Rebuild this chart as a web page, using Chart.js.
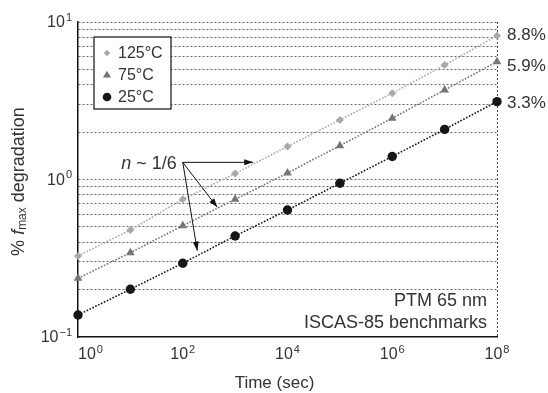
<!DOCTYPE html>
<html><head><meta charset="utf-8">
<script src="https://cdn.jsdelivr.net/npm/chart.js@4"></script>
<style>html,body{margin:0;padding:0;background:#fff}#w{width:548px;height:393px}</style>
</head><body><div id="w"><canvas id="c" width="548" height="393"></canvas></div>
<script>
const times = [1, 10, 100, 1e3, 1e4, 1e5, 1e6, 1e7, 1e8];
const seriesLabels = ['125°C', '75°C', '25°C'];
const deg125 = [0.327, 0.478, 0.748, 1.09, 1.62, 2.39, 3.53, 5.33, 8.19];
const deg75 = [0.236, 0.343, 0.509, 0.748, 1.10, 1.64, 2.45, 3.70, 5.60];
const deg25 = [0.138, 0.201, 0.294, 0.438, 0.640, 0.946, 1.40, 2.08, 3.12];
const endLabels = ['8.8%', '5.9%', '3.3%'];
const endLabelY = [8.26, 5.2, 3.06];
const xTickExps = [0, 2, 4, 6, 8];
const yTickExps = [-1, 0, 1];
const noteText = ['PTM 65 nm', 'ISCAS-85 benchmarks'];
const arrowFrom = {x: 100, y: 1.285};
const arrowTips = [{x: Math.pow(10, 3.345), y: 1.285}, {x: Math.pow(10, 2.66), y: 0.666}, {x: Math.pow(10, 2.277), y: 0.353}];

const colors = ['#a9a9a9', '#757575', '#161616'];
const styles = ['rectRot', 'triangle', 'circle'];
const radii = [4, 5, 4.7];
const legendRadii = [3.3, 4.3, 4.3];
const allSeries = [deg125, deg75, deg25];
const FONT = '"Liberation Sans", Arial, sans-serif';
const TXT = '#333';

const datasets = allSeries.map((s, i) => ({
  label: seriesLabels[i],
  data: s.map((v, j) => ({x: times[j], y: v})),
  borderColor: colors[i],
  backgroundColor: colors[i],
  pointBackgroundColor: colors[i],
  pointBorderColor: colors[i],
  pointStyle: styles[i],
  pointRadius: radii[i],
  pointBorderWidth: 0,
  borderWidth: 1.6,
  borderDash: [1.6, 1.6],
  showLine: true,
  fill: false,
  clip: false
}));

function drawPow(ctx, base, exp, x, y, align) {
  ctx.font = '16px ' + FONT;
  const wb = ctx.measureText(base).width;
  ctx.font = '11px ' + FONT;
  const es = exp < 0 ? '\u2212' + (-exp) : String(exp);
  const we = ctx.measureText(es).width + 1;
  const tot = wb + we;
  let x0 = x;
  if (align === 'center') x0 = x - tot / 2;
  else if (align === 'right') x0 = x - tot;
  ctx.textAlign = 'left';
  ctx.textBaseline = 'middle';
  ctx.font = '16px ' + FONT;
  ctx.fillText(base, x0, y);
  ctx.font = '11px ' + FONT;
  ctx.fillText(es, x0 + wb + 1, y - 5.5);
}

function drawMarker(ctx, style, x, y, r, color) {
  ctx.fillStyle = color;
  ctx.beginPath();
  if (style === 'circle') {
    ctx.arc(x, y, r, 0, Math.PI * 2);
  } else if (style === 'triangle') {
    ctx.moveTo(x, y - r);
    ctx.lineTo(x + r * 0.95, y + r * 0.6);
    ctx.lineTo(x - r * 0.95, y + r * 0.6);
    ctx.closePath();
  } else {
    ctx.moveTo(x, y - r);
    ctx.lineTo(x + r, y);
    ctx.lineTo(x, y + r);
    ctx.lineTo(x - r, y);
    ctx.closePath();
  }
  ctx.fill();
}

const deco = {
  id: 'deco',
  afterDraw(chart) {
    const ctx = chart.ctx;
    const xs = chart.scales.x, ys = chart.scales.y;
    const ca = chart.chartArea;
    ctx.save();
    ctx.fillStyle = TXT;
    xTickExps.forEach(e => {
      const px = xs.getPixelForValue(Math.pow(10, e));
      drawPow(ctx, '10', e, px, ca.bottom + 18, e === xTickExps[0] ? 'left' : 'center');
    });
    yTickExps.forEach(e => {
      const py = ys.getPixelForValue(Math.pow(10, e));
      drawPow(ctx, '10', e, ca.left - 6, py + 1, 'right');
    });
    ctx.fillStyle = TXT;
    ctx.font = '17px ' + FONT;
    ctx.textAlign = 'center';
    ctx.textBaseline = 'middle';
    ctx.fillText('Time (sec)', (ca.left + ca.right) / 2 - 13, ca.bottom + 46);
    ctx.save();
    ctx.translate(19, (ca.top + ca.bottom) / 2 + 2);
    ctx.rotate(-Math.PI / 2);
    const parts = [['% ', '18px ' + FONT, 0], ['f', 'italic 18px ' + FONT, 0], ['max', '12px ' + FONT, 4], [' degradation', '18px ' + FONT, 0]];
    let tw = 0;
    parts.forEach(p => { ctx.font = p[1]; tw += ctx.measureText(p[0]).width; });
    let cx = -tw / 2;
    ctx.textAlign = 'left';
    parts.forEach(p => { ctx.font = p[1]; ctx.fillText(p[0], cx, p[2]); cx += ctx.measureText(p[0]).width; });
    ctx.restore();
    ctx.font = '17px ' + FONT;
    ctx.textAlign = 'left';
    ctx.textBaseline = 'middle';
    endLabels.forEach((t, i) => {
      ctx.fillText(t, ca.right + 10, ys.getPixelForValue(endLabelY[i]));
    });
    ctx.font = '18px ' + FONT;
    ctx.textAlign = 'right';
    ctx.fillText(noteText[0], ca.right - 10, ca.bottom - 36);
    ctx.fillText(noteText[1], ca.right - 10, ca.bottom - 14);
    const ox = xs.getPixelForValue(arrowFrom.x), oy = ys.getPixelForValue(arrowFrom.y);
    ctx.textAlign = 'right';
    const rest = ' ~ 1/6';
    ctx.font = '18px ' + FONT;
    const wr = ctx.measureText(rest).width;
    ctx.fillText(rest, ox - 6, oy + 1.5);
    ctx.font = 'italic 18px ' + FONT;
    ctx.fillText('n', ox - 6 - wr, oy + 1.5);
    ctx.strokeStyle = '#111';
    ctx.fillStyle = '#111';
    ctx.lineWidth = 1;
    arrowTips.forEach(t => {
      const tx = xs.getPixelForValue(t.x), ty = ys.getPixelForValue(t.y);
      ctx.beginPath();
      ctx.moveTo(ox, oy);
      ctx.lineTo(tx, ty);
      ctx.stroke();
      const a = Math.atan2(ty - oy, tx - ox);
      const L = 9, W = 3;
      ctx.beginPath();
      ctx.moveTo(tx, ty);
      ctx.lineTo(tx - L * Math.cos(a) + W * Math.sin(a), ty - L * Math.sin(a) - W * Math.cos(a));
      ctx.lineTo(tx - L * Math.cos(a) - W * Math.sin(a), ty - L * Math.sin(a) + W * Math.cos(a));
      ctx.closePath();
      ctx.fill();
    });
    const lx = 94, ly = 37, lw = 77, lh = 72;
    ctx.fillStyle = '#fff';
    ctx.fillRect(lx, ly, lw, lh);
    ctx.strokeStyle = '#222';
    ctx.lineWidth = 1.3;
    ctx.strokeRect(lx, ly, lw, lh);
    seriesLabels.forEach((lab, i) => {
      const yy = ly + 16 + i * 22;
      drawMarker(ctx, styles[i], lx + 13, yy, legendRadii[i], colors[i]);
      ctx.fillStyle = TXT;
      ctx.font = '16px ' + FONT;
      ctx.textAlign = 'left';
      ctx.textBaseline = 'middle';
      ctx.fillText(lab, lx + 24, yy + 1);
    });
    ctx.restore();
  }
};

new Chart(document.getElementById('c'), {
  type: 'scatter',
  data: {datasets},
  options: {
    responsive: false,
    animation: false,
    events: [],
    layout: {padding: {left: 78, right: 51, top: 22, bottom: 56}},
    plugins: {legend: {display: false}, tooltip: {enabled: false}},
    scales: {
      x: {
        type: 'logarithmic', min: 1, max: 1e8,
        afterBuildTicks: s => { s.ticks = [1, 100, 1e4, 1e6, 1e8].map(v => ({value: v})); },
        ticks: {display: false},
        grid: {drawTicks: false, color: c => (c.tick && c.tick.value === 1e8) ? '#444' : 'rgba(0,0,0,0)', lineWidth: 1},
        border: {display: true, color: '#111', width: 1.5, dash: [2, 2]}
      },
      y: {
        type: 'logarithmic', min: 0.1, max: 10,
        afterBuildTicks: s => {
          const t = [];
          [0.1, 1].forEach(b => { for (let k = 1; k <= 9; k++) t.push({value: +(b * k).toPrecision(3)}); });
          t.push({value: 10});
          s.ticks = t;
        },
        ticks: {display: false},
        grid: {drawTicks: false, color: c => (c.tick && c.tick.value === 0.1) ? 'rgba(0,0,0,0)' : '#555', lineWidth: 0.9},
        border: {display: true, color: '#111', width: 1.5, dash: [2, 2]}
      }
    }
  },
  plugins: [deco]
});
</script>
</body></html>
